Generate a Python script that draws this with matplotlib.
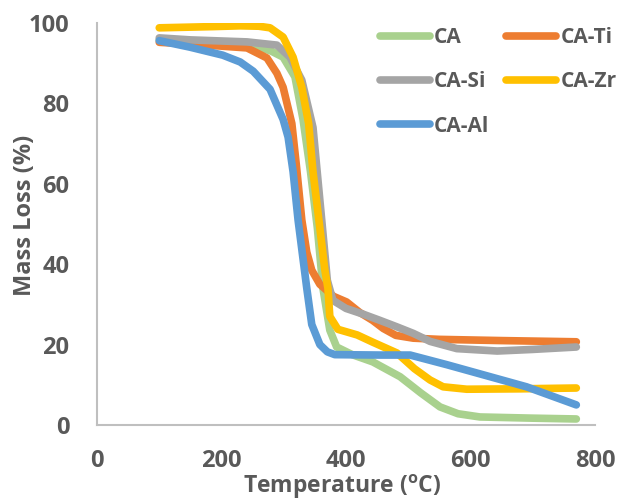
import matplotlib
matplotlib.use("Agg")
import matplotlib.pyplot as plt

# ---- data ----
ca_x = [100, 150, 200, 250, 280, 299, 318, 331, 343, 354, 363, 374, 385, 410, 443, 487, 520, 551, 580, 615, 700, 770]
ca_y = [95.8, 95.5, 95.2, 94.5, 93, 91.5, 86.6, 76, 63, 49, 34, 23.6, 19.4, 17.5, 15.7, 12, 8, 4.5, 2.8, 2, 1.7, 1.5]

ti_x = [100, 176, 241, 273, 289, 299, 313, 320, 329, 337, 345, 358, 380, 401, 422, 443, 460, 480, 508, 550, 650, 770]
ti_y = [95.2, 94.5, 93.8, 91.3, 87.5, 84, 75, 65, 51, 43, 38.5, 35, 32, 30.6, 28, 26, 24, 22.3, 21.6, 21.3, 21, 20.7]

si_x = [100, 150, 241, 289, 310, 329, 347, 361, 370, 379, 400, 427, 455, 482, 508, 535, 578, 643, 700, 770]
si_y = [96.3, 95.8, 95.3, 94.5, 91.5, 85.8, 74, 51, 36, 31, 29, 27.6, 26, 24.4, 22.8, 20.8, 19, 18.4, 18.8, 19.4]

zr_x = [100, 186, 230, 260, 278, 299, 315, 329, 340, 347, 358, 366, 371, 374, 387, 418, 443, 482, 510, 535, 556, 594, 680, 770]
zr_y = [98.8, 99.1, 99.3, 99.2, 98.8, 96.5, 91.5, 84, 75, 63, 49, 38.6, 34, 27, 23.8, 22.4, 20.6, 17.9, 14, 11.2, 9.5, 8.9, 9, 9.2]

al_x = [100, 149, 202, 230, 251, 278, 299, 307, 315, 323, 337, 345, 358, 370, 382, 455, 503, 562, 690, 770]
al_y = [95.6, 94, 92, 90.3, 88, 83.5, 76, 71.6, 63, 51, 34, 25, 20, 18.2, 17.5, 17.4, 17.4, 15, 9.5, 5]

labels = ["CA", "CA-Ti", "CA-Si", "CA-Zr", "CA-Al"]
colors = ["#A9D18E", "#ED7D31", "#A5A5A5", "#FFC000", "#5B9BD5"]
x_ticks = [0, 200, 400, 600, 800]
y_ticks = [0, 20, 40, 60, 80, 100]

plt.rcParams['font.family'] = ['Open Sans', 'DejaVu Sans']
txt = "#595959"

fig = plt.figure(figsize=(6.2, 5.03), dpi=100)
ax = fig.add_axes([97/620, 1-425/503, (595-97)/620, (425-23)/503])

series = [(ca_x, ca_y), (ti_x, ti_y), (si_x, si_y), (zr_x, zr_y), (al_x, al_y)]
zorders = [2, 3, 4, 5, 6]
handles = []
for (xs, ys), lab, c, z in zip(series, labels, colors, zorders):
    h, = ax.plot(xs, ys, color=c, lw=5.5, label=lab, zorder=z,
                 solid_capstyle='round', solid_joinstyle='round')
    handles.append(h)

ax.set_xlim(0, 800)
ax.set_ylim(0, 100)
ax.set_xticks(x_ticks)
ax.set_yticks(y_ticks)
for s in ['top', 'right']:
    ax.spines[s].set_visible(False)
for s in ['left', 'bottom']:
    ax.spines[s].set_color('#BFBFBF')
    ax.spines[s].set_linewidth(1.5)
ax.tick_params(length=0, labelsize=17, labelcolor=txt)
ax.tick_params(axis='y', pad=20)
ax.tick_params(axis='x', pad=17)
for lbl in ax.get_xticklabels() + ax.get_yticklabels():
    lbl.set_fontweight('bold')

ax.set_ylabel('Mass Loss (%)', fontsize=17, fontweight='bold', color=txt, va='center')
ax.yaxis.set_label_coords(-0.1446, 0.522)
ax.set_xlabel(r'Temperature ($\mathregular{^{o}}$C)', fontsize=16.5, fontweight='bold', color=txt, va='center')
ax.xaxis.set_label_coords(0.492, -(487 - 425) / 402)

# row-major order like the reference: CA, CA-Ti / CA-Si, CA-Zr / CA-Al
order = [0, 2, 4, 1, 3]
leg = ax.legend(handles=[handles[i] for i in order], ncol=2, loc='upper left',
                bbox_to_anchor=(380/620, 1-27/503), bbox_transform=fig.transFigure,
                frameon=False, handlelength=2.4, handletextpad=0.2,
                columnspacing=0.8, labelspacing=1.12, borderpad=0, borderaxespad=0,
                prop={'weight': 'bold', 'size': 15})
for t in leg.get_texts():
    t.set_color(txt)

fig.savefig('out.png', dpi=100)
